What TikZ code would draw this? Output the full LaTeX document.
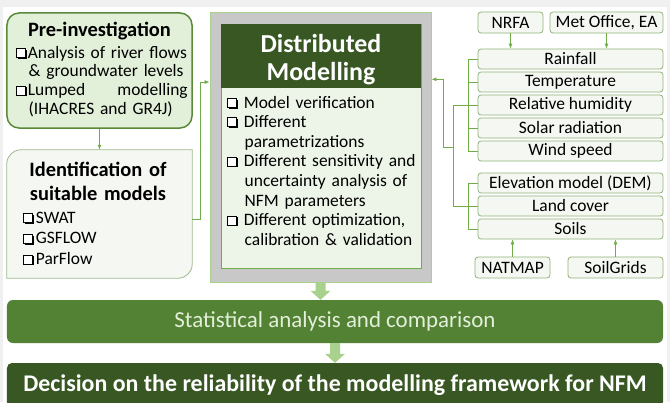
\documentclass[tikz,border=0pt]{standalone}
\usepackage{fontspec}
\setmainfont{Carlito}
\usetikzlibrary{calc,positioning,arrows.meta}

\definecolor{leaf}{HTML}{70AD47}
\definecolor{moss}{HTML}{548235}
\definecolor{forest}{HTML}{385723}
\definecolor{pale}{HTML}{E2EFD9}
\definecolor{sage}{HTML}{A9D18E}
\definecolor{mist}{HTML}{F5F8F2}
\definecolor{ash}{HTML}{C8C8C8}
\newcommand*\fs[2]{\fontsize{#1}{#2}\selectfont}
% shadowed check box
\newcommand*\chk{\tikz[baseline=0pt,x=1bp,y=1bp]{\fill[black] (2.2,-0.6) rectangle (11.2,8.4); \filldraw[fill=white,draw=black,line width=0.9bp] (0.45,0.8) rectangle (9.4,9.8);}}
% fat down arrow (from)(to)
\def\fatarrow(#1)(#2){\fill[sage] ($(#1)+(-5,0)$) -- ($(#2)+(-5,9)$) -- ($(#2)+(-10,9)$) -- (#2) -- ($(#2)+(10,9)$) -- ($(#2)+(5,9)$) -- ($(#1)+(5,0)$) -- cycle;}

\begin{document}
\begin{tikzpicture}[x=1bp,y=1bp,>={Latex[length=5bp,width=4bp]},
  link/.style={draw=leaf,line width=0.8bp},
  databox/.style={draw=sage!85!black,fill=mist,rounded corners=3bp,line width=0.8bp,minimum width=185bp,minimum height=20bp,inner sep=0pt,font=\fs{17.5}{18}},
  srcbox/.style={databox,minimum height=21bp},
  lines/.style={anchor=base west,align=left,inner sep=0pt}]

\fill[gray!12] (0,0) rectangle (670,402);
\fill[white] (3,0) rectangle (667,395);
\useasboundingbox (0,0) rectangle (670,402);

% left column
\node[draw=leaf!80!black,fill=pale,line width=1.5bp,rounded corners=12bp,minimum width=185bp,minimum height=115bp,inner sep=0pt] (pre) at (99.5,331.5) {};
\node[anchor=base,font=\bfseries\fs{20.5}{22}] (pretitle) at (99.5,366) {Pre-investigation};
\node[lines,text width=172bp,font=\fs{17.5}{19}] (pretext) at (15.5,344) {\chk\hspace{1bp}Analysis of river flows\\ \hspace*{13bp}\& groundwater levels\\ \chk\hspace{1bp}Lumped\hfill modelling\\ \hspace*{13bp}(IHACRES and GR4J)};

\node[minimum width=185bp,minimum height=128bp,inner sep=0pt] (ident) at (99.5,188) {};
\path[draw=sage!70!gray,fill=mist,line width=0.8bp] (ident.south west) -- ($(ident.north west)+(0,-14)$) arc[start angle=180,end angle=90,radius=14bp] -- (ident.north east) -- ($(ident.south east)+(0,14)$) arc[start angle=0,end angle=-90,radius=14bp] -- cycle;
\node[anchor=base,align=center,text width=185bp,inner sep=0pt,font=\bfseries\fs{20.5}{25}] (identtitle) at (98,226) {Identification of\\suitable models};
\node[lines,text width=160bp,font=\fs{17.5}{21}] (identtext) at (23,179) {\chk\hspace{1.5bp}SWAT\\ \chk\hspace{1.5bp}GSFLOW\\ \chk\hspace{1.5bp}ParFlow};

% distributed modelling
\node[fill=ash,draw=sage,line width=0.8bp,minimum width=221bp,minimum height=270bp,inner sep=0pt] (outer) at (320.5,255) {};
\node[fill=mist!60!pale,draw=leaf,line width=0.8bp,minimum width=200bp,minimum height=244bp,inner sep=0pt] (inner) at (321,256) {};
\node[fill=forest,minimum width=200bp,minimum height=64bp,inner sep=0pt,anchor=north] (head) at (inner.north) {};
\node[anchor=base,align=center,text width=200bp,inner sep=0pt,text=white,font=\bfseries\fs{26}{29}] (headtitle) at (321,350) {Distributed\\Modelling};
\node[lines,text width=196bp,font=\fs{17.5}{19.7}] (steps) at (226.5,294) {\chk\hspace{6bp}Model verification\\ \chk\hspace{6bp}Different\\ \hspace*{18bp}parametrizations\\ \chk\hspace{6bp}Different sensitivity and\\ \hspace*{18bp}uncertainty analysis of\\ \hspace*{18bp}NFM parameters\\ \chk\hspace{6bp}Different optimization,\\ \hspace*{18bp}calibration \& validation};

\draw[link,->] (pre) -- (ident);
\draw[link,->] ([yshift=-5bp]ident.east) -- ++(8,0) |- ($(outer.north west)!0.26!(outer.south west)$);

% input data
\node[srcbox,minimum width=65bp] (nrfa) at (510.5,379.5) {NRFA};
\node[srcbox,minimum width=113bp] (met) at (606.5,379.5) {Met Office, EA};
\node[databox] (rain) at (570.5,343) {Rainfall};
\node[databox] (temp) at (570.5,320) {Temperature};
\node[databox] (humid) at (570.5,297) {Relative humidity};
\node[databox] (solar) at (570.5,274) {Solar radiation};
\node[databox] (wind) at (570.5,251) {Wind speed};
\node[databox] (elev) at (570.5,219) {Elevation model (DEM)};
\node[databox] (land) at (570.5,196) {Land cover};
\node[databox] (soils) at (570.5,173) {Soils};
\node[srcbox,minimum width=75bp] (natmap) at (512.5,134.5) {NATMAP};
\node[srcbox,minimum width=95bp] (grids) at (615.5,134.5) {SoilGrids};

\draw[link,->] (nrfa) -- (nrfa |- rain.north);
\draw[link,->] (met) -- (met |- rain.north);
\draw[link,->] (natmap) -- (natmap |- soils.south);
\draw[link,->] (grids) -- (grids |- soils.south);

\coordinate (mx) at (468,0);
\coordinate (ox) at (453,0);
\foreach \n in {rain,temp,humid,solar,wind,elev,land,soils}
  \draw[link] (\n.west) -- (\n.west -| mx);
\draw[link] (rain.west -| mx) -- (wind.west -| mx);
\draw[link] (elev.west -| mx) -- (soils.west -| mx);
\draw[link] (humid.west -| mx) -- (humid.west -| ox) -- (land.west -| ox) -- (land.west -| mx);
\draw[link,->] ($(wind.west -| ox)+(0,4)$) -- ++(-10,0) |- ($(outer.north east)!0.25!(outer.south east)$);

% results
\node[fill=moss,rounded corners=6bp,minimum width=656bp,minimum height=43bp,inner sep=0pt,text=pale,font=\fs{23}{24}] (stats) at (335,80.5) {Statistical analysis and comparison};
\node[fill=forest,rounded corners=5bp,minimum width=656bp,minimum height=44bp,inner sep=0pt,text=white,font=\bfseries\fs{24}{25}] (decision) at (335,17) {Decision on the reliability of the modelling framework for NFM};

\fatarrow(outer.south)(outer.south |- stats.north)
\fatarrow(stats.south)(stats.south |- decision.north)

\end{tikzpicture}
\end{document}
